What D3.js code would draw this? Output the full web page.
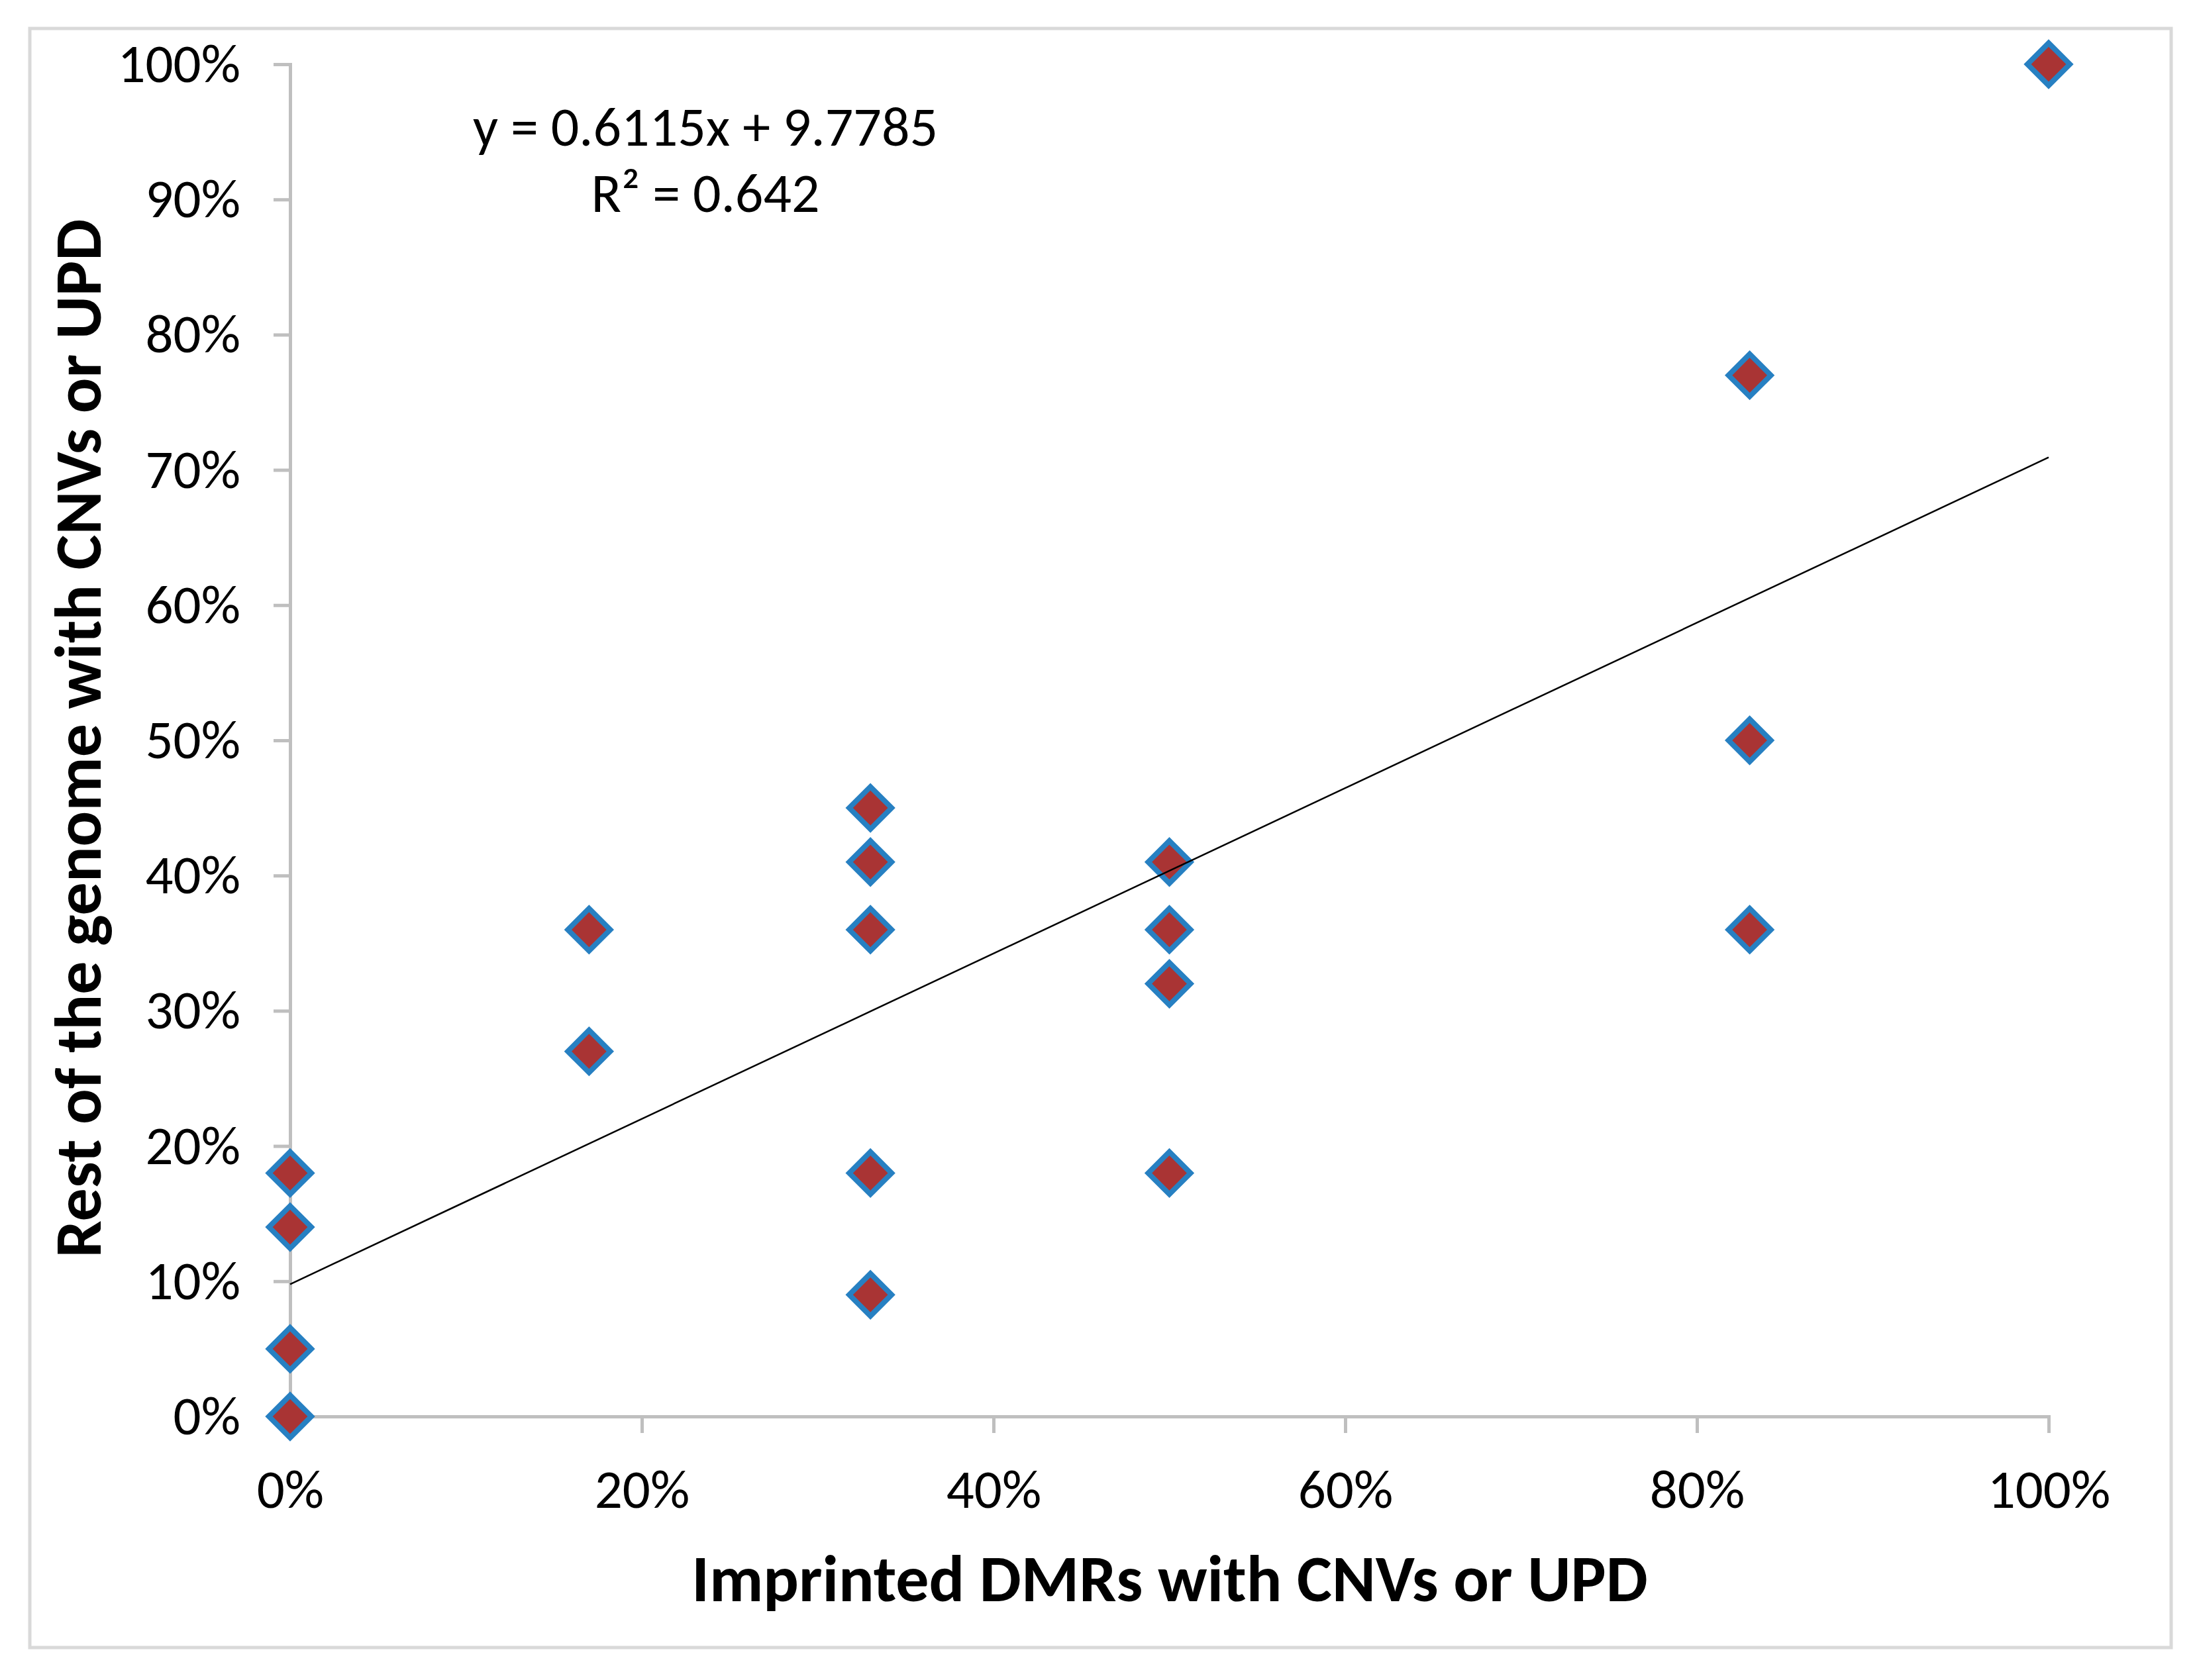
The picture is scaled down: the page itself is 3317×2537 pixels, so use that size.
<!DOCTYPE html>
<html lang="en">
<head>
  <meta charset="UTF-8">
  <title>Imprinted DMRs vs rest of genome</title>
  <script src="https://d3js.org/d3.v7.min.js"></script>
  <style>
    body {
      margin: 0;
      background: #fff;
    }

    svg {
      display: block;
      font-family: "Carlito", "Lato", sans-serif;
    }

    .axis path,
    .axis line {
      stroke: #bfbfbf;
      stroke-width: 5;
    }

    .axis text {
      font-size: 83px;
      fill: #000;
    }

    .title {
      font-weight: bold;
      font-size: 100px;
      fill: #000;
    }

    .eq {
      font-size: 84px;
      fill: #000;
    }
  </style>
</head>
<body>

<svg width="3317" height="2537"></svg>

<script>
  // points: imprinted DMRs (x, %) vs rest of the genome (y, %)
  const xValues = [0, 0, 0, 0, 17, 17, 33, 33, 33, 33, 33, 50, 50, 50, 50, 83, 83, 83, 100];
  const yValues = [18, 14, 5, 0, 36, 27, 45, 41, 36, 18, 9, 41, 36, 32, 18, 77, 50, 36, 100];

  const xTicks = [0, 20, 40, 60, 80, 100];
  const yTicks = [0, 10, 20, 30, 40, 50, 60, 70, 80, 90, 100];

  // linear trend line as printed on the chart
  const slope = 0.6115;
  const intercept = 9.7785;
  const eqLines = ["y = 0.6115x + 9.7785", "R² = 0.642"];

  const points = xValues.map((x, i) => ({x: x, y: yValues[i]}));

  const svg = d3.select("svg"),
        margin = {top: 97, right: 224, bottom: 398, left: 438},
        width = +svg.attr("width") - margin.left - margin.right,
        height = +svg.attr("height") - margin.top - margin.bottom;

  // outer chart border
  svg.append("rect")
      .attr("x", 45)
      .attr("y", 43)
      .attr("width", 3233)
      .attr("height", 2445)
      .attr("fill", "none")
      .attr("stroke", "#d9d9d9")
      .attr("stroke-width", 5);

  const chart = svg.append("g")
      .attr("transform", `translate(${margin.left},${margin.top})`);

  const x = d3.scaleLinear()
      .domain([0, 100])
      .range([0, width]);

  const y = d3.scaleLinear()
      .domain([0, 100])
      .range([height, 0]);

  // Y-axis
  chart.append("g")
      .attr("class", "axis")
      .call(d3.axisLeft(y)
        .tickValues(yTicks)
        .tickSize(25)
        .tickPadding(50)
        .tickFormat(d => `${d}%`));

  // X-axis
  chart.append("g")
      .attr("class", "axis")
      .attr("transform", `translate(0,${height})`)
      .call(d3.axisBottom(x)
        .tickValues(xTicks)
        .tickSize(25)
        .tickPadding(54)
        .tickFormat(d => `${d}%`));

  chart.selectAll(".axis").attr("font-family", null).attr("font-size", null);

  // Markers
  const diamond = d3.symbol().type(d3.symbolSquare).size(2048);

  chart.selectAll(".pt")
      .data(points)
      .enter()
      .append("path")
      .attr("class", "pt")
      .attr("d", diamond)
      .attr("transform", d => `translate(${x(d.x)},${y(d.y)}) rotate(45)`)
      .attr("fill", "#a93434")
      .attr("stroke", "#2780c2")
      .attr("stroke-width", 8)
      .attr("stroke-linejoin", "miter");

  // Trend line
  chart.append("line")
      .attr("x1", x(0))
      .attr("y1", y(intercept))
      .attr("x2", x(100))
      .attr("y2", y(slope * 100 + intercept))
      .attr("stroke", "#000")
      .attr("stroke-width", 2.5);

  // Equation
  const eq = svg.append("text")
      .attr("class", "eq")
      .attr("text-anchor", "middle");
  eq.selectAll("tspan")
      .data(eqLines)
      .enter()
      .append("tspan")
      .attr("x", 1065)
      .attr("y", (d, i) => 220 + i * 100)
      .text(d => d);

  // Axis labels
  svg.append("text")
      .attr("class", "title")
      .attr("x", 1766)
      .attr("y", 2418)
      .attr("text-anchor", "middle")
      .text("Imprinted DMRs with CNVs or UPD");

  svg.append("text")
      .attr("class", "title")
      .attr("transform", "rotate(-90)")
      .attr("x", -1115)
      .attr("y", 152)
      .attr("text-anchor", "middle")
      .text("Rest of the genome with CNVs or UPD");
</script>

</body>
</html>
